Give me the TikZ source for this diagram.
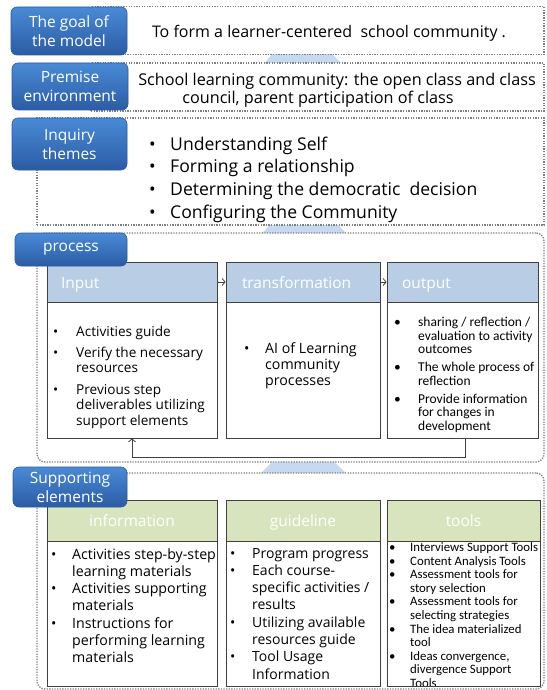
\documentclass[tikz,border=0pt]{standalone}
\usepackage{fontspec}
\setmainfont{Open Sans}
\newfontfamily\calfont{Carlito}
\usetikzlibrary{arrows.meta}
\definecolor{lblA}{HTML}{4A8AD6}
\definecolor{lblB}{HTML}{2B5CA3}
\definecolor{lblD}{HTML}{2A5A9E}
\definecolor{hdrB}{HTML}{B9CDE5}
\definecolor{hdrG}{HTML}{D7E4BD}
\definecolor{arrbg}{HTML}{C6D9F1}
\definecolor{dotc}{HTML}{7F7F7F}
\definecolor{boxc}{HTML}{404040}
\tikzset{
 lbl/.style={draw=lblD, line width=0.6pt, rounded corners=6pt, top color=lblA, bottom color=lblB, text=white, align=center, inner sep=0pt, font=\fontsize{15.5}{19}\selectfont},
 dotbox/.style={draw=dotc, line width=1.3pt, dash pattern=on 1.3pt off 1.3pt, fill=white, inner sep=0pt},
 hdr/.style={draw=boxc, line width=0.8pt, inner sep=0pt, text=white, align=left, text height=12pt, text depth=0pt, font=\fontsize{15.5}{18}\selectfont},
 hdrc/.style={draw=boxc, line width=0.8pt, inner sep=0pt, text=white, align=center, text height=11pt, text depth=0pt, font=\fontsize{15.5}{18}\selectfont},
 bodybox/.style={draw=boxc, line width=0.8pt, fill=white, inner sep=0pt},
 txt/.style={inner sep=0pt, align=left, anchor=base west},
 flow/.style={draw=boxc, line width=0.8pt, -{Straight Barb[length=3pt,width=7pt]}},
 arrowbg/.style={fill=arrbg, draw=none},
}
\begin{document}
\begin{tikzpicture}[x=1pt,y=-1pt]
\useasboundingbox (0,0) rectangle (546,690);
% background arrow heads in gaps
\fill[arrowbg] (263,65) -- (343,65) -- (332,54) -- (272,54) -- cycle;
\fill[arrowbg] (260,235) -- (348,235) -- (337,224) -- (271,224) -- cycle;
\fill[arrowbg] (260,474) -- (347,474) -- (332,460) -- (274,460) -- cycle;
% dotted boxes
\node[dotbox, minimum width=453pt, minimum height=48pt] (goalB) at (317.5,30.5) {};
\node[dotbox, minimum width=453pt, minimum height=48pt] (premB) at (317.5,87) {};
\node[dotbox, minimum width=507pt, minimum height=107pt] (inqB) at (290.5,171.5) {};
\node[dotbox, rounded corners=8pt, minimum width=507pt, minimum height=229pt] (procB) at (290.5,347.5) {};
\node[dotbox, rounded corners=8pt, minimum width=507pt, minimum height=216pt] (suppB) at (290.5,581) {};
% texts of top boxes
\node[inner sep=0pt, font=\fontsize{16}{19}\selectfont] (goalT) at (329,33) {To form a learner-centered\ \ school community .};
\node[inner sep=0pt, align=center, font=\fontsize{16.2}{18.5}\selectfont] (premT) at (337,90.5) {School learning community: the open class and class\\council, parent participation of class\hspace*{38pt}};
\node[txt, font=\fontsize{17.6}{22.7}\selectfont] (inqT) at (149,150) {\begin{tabular}[t]{@{}p{21pt}@{}l@{}}
• & Understanding Self\\
• & Forming a relationship\\
• & Determining the democratic\ \ decision\\
• & Configuring the Community
\end{tabular}};
% labels
\node[lbl, minimum width=116pt, minimum height=48pt] (goalL) at (69,31) {The goal of\\the model};
\node[lbl, minimum width=116pt, minimum height=47pt] (premL) at (70,86.5) {Premise\\environment};
\node[lbl, minimum width=115pt, minimum height=52pt] (inqL) at (69.5,144) {Inquiry\\themes};
% process
\node[hdr, fill=hdrB, minimum width=170pt, minimum height=40pt, text width=142pt, inner xsep=14pt] (inH) at (132,282) {Input};
\node[bodybox, minimum width=170pt, minimum height=136pt] (inB) at (132,370) {};
\node[hdr, fill=hdrB, minimum width=154pt, minimum height=40pt, text width=122pt, inner xsep=16pt] (trH) at (303,282) {transformation};
\node[bodybox, minimum width=154pt, minimum height=136pt] (trB) at (303,370) {};
\node[hdr, fill=hdrB, minimum width=151pt, minimum height=40pt, text width=121pt, inner xsep=15pt] (outH) at (462.5,282) {output};
\node[bodybox, minimum width=151pt, minimum height=136pt] (outB) at (462.5,370) {};
\draw[flow] (inH.east) -- (trH.west);
\draw[flow] (trH.east) -- (outH.west);
\coordinate (fbA) at (465,457.5);
\coordinate (fbB) at (132,457.5);
\draw[flow] (outB.south -| fbA) -- (fbA) -- (fbB) -- (inB.south -| fbB);
\node[txt, font=\fontsize{13.6}{15.7}\selectfont] (inT) at (53,336) {\begin{tabular}[t]{@{}p{23pt}@{}l@{}}
• & Activities guide\\[5.5pt]
• & Verify the necessary\\
  & resources\\[5.5pt]
• & Previous step\\
  & deliverables utilizing\\
  & support elements
\end{tabular}};
\node[txt, font=\fontsize{14.2}{16.2}\selectfont] (trT) at (244,353) {\begin{tabular}[t]{@{}p{21pt}@{}l@{}}
• & AI of Learning\\
  & community\\
  & processes
\end{tabular}};
\node[txt, font=\calfont\fontsize{13.5}{13.6}\selectfont] (outT) at (394,326.5) {\begin{tabular}[t]{@{}p{24pt}@{}l@{}}
• & sharing / reflection /\\
  & evaluation to activity\\
  & outcomes\\[4.3pt]
• & The whole process of\\
  & reflection\\[4.3pt]
• & Provide information\\
  & for changes in\\
  & development
\end{tabular}};
\node[lbl, minimum width=112pt, minimum height=33pt] (procL) at (71,249.5) {process};
% supporting
\node[hdrc, fill=hdrG, minimum width=170pt, minimum height=41pt] (infH) at (132,520.5) {information};
\node[bodybox, minimum width=170pt, minimum height=145pt] (infB) at (132,613.5) {};
\node[hdrc, fill=hdrG, minimum width=154pt, minimum height=41pt] (guiH) at (303,520.5) {guideline};
\node[bodybox, minimum width=154pt, minimum height=145pt] (guiB) at (303,613.5) {};
\node[hdrc, fill=hdrG, minimum width=153pt, minimum height=41pt] (tooH) at (463.5,520.5) {tools};
\node[bodybox, minimum width=153pt, minimum height=145pt] (tooB) at (463.5,613.5) {};
\node[txt, font=\fontsize{14.2}{17.3}\selectfont] (infT) at (51,559) {\begin{tabular}[t]{@{}p{21pt}@{}l@{}}
• & Activities step-by-step\\
  & learning materials\\
• & Activities supporting\\
  & materials\\
• & Instructions for\\
  & performing learning\\
  & materials
\end{tabular}};
\node[txt, font=\fontsize{14}{17.3}\selectfont] (guiT) at (230,558) {\begin{tabular}[t]{@{}p{22pt}@{}l@{}}
• & Program progress\\
• & Each course-\\
  & specific activities /\\
  & results\\
• & Utilizing available\\
  & resources guide\\
• & Tool Usage\\
  & Information
\end{tabular}};
\node[txt, font=\calfont\fontsize{12.8}{13.6}\selectfont] (tooT) at (389,551.5) {\begin{tabular}[t]{@{}p{21pt}@{}l@{}}
• & Interviews Support Tools\\
• & Content Analysis Tools\\
• & Assessment tools for\\
  & story selection\\
• & Assessment tools for\\
  & selecting strategies\\
• & The idea materialized\\
  & tool\\
• & Ideas convergence,\\
  & divergence Support\\
  & Tools
\end{tabular}};
\draw[draw=boxc, line width=0.8pt] (tooB.south west) -- (tooB.south east);
\node[lbl, minimum width=114pt, minimum height=40pt] (suppL) at (70,487) {Supporting\\elements};
\end{tikzpicture}
\end{document}
